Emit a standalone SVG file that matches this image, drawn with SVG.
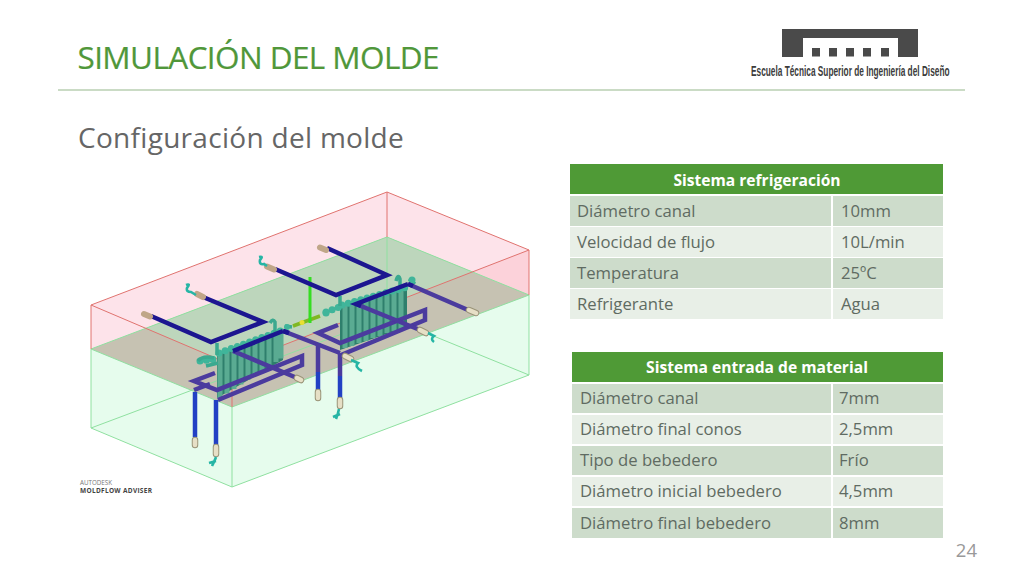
<svg xmlns="http://www.w3.org/2000/svg" width="1024" height="576" viewBox="0 0 1024 576">
<style>
text{font-family:"Open Sans","Liberation Sans",sans-serif}
.title{font-size:31.500px;fill:#50973a;letter-spacing:-.6px;stroke:#50973a;stroke-width:.2px}
.sub{font-size:28px;fill:#666;letter-spacing:.3px}
.th{font-size:15.600px;font-weight:700;fill:#fff;text-anchor:middle}
.td{font-size:16.700px;fill:#5f6b62}
.hd{fill:#4f9a36}.a{fill:#cddccb}.b{fill:#e8efe7}
.red{stroke:#e0736f;stroke-width:1;fill:none}
.grn{stroke:#8fe0a0;stroke-width:1;fill:none}
.dark{stroke:#1c1490;stroke-width:4.500;fill:none}
.pur{stroke:#4b3a9e;stroke-width:4.500;fill:none}
.blu{stroke:#2140c4;stroke-width:4.500;fill:none}
.tip{stroke:#c0a688;stroke-width:6;fill:none;stroke-linecap:round}
.tipo{stroke:#9a9478;stroke-width:6.500;fill:none;stroke-linecap:round}
.tip2{stroke:#e6dfc6;stroke-width:4.500;fill:none;stroke-linecap:round}
.clip{stroke:#25b5a5;stroke-width:2.600;fill:none}
.rib{stroke:#5aab92;stroke-width:5;fill:none}
.bump{stroke:#3fb59a;stroke-width:7;fill:none;stroke-linecap:round}
.tl{stroke:#3aa98f;stroke-width:3.500;fill:none}
</style>
<defs><filter id="soft" x="-5%" y="-5%" width="110%" height="110%"><feGaussianBlur stdDeviation="0.5"/></filter></defs>
<rect width="1024" height="576" fill="#fff"/>
<text class="title" x="77.500" y="68.500" id="title">SIMULACIÓN DEL MOLDE</text>
<line x1="58" y1="90" x2="965" y2="90" stroke="#b8cfb2" stroke-width="1.500"/>
<text class="sub" x="78" y="148">Configuración del molde</text>
<g id="logo" fill="#4a4a4a">
<path d="M782 29H918V57H898V38H803V57H782Z"/>
<rect x="812" y="48" width="8" height="8.500"/><rect x="829" y="48" width="8" height="8.500"/><rect x="846" y="48" width="8" height="8.500"/><rect x="863" y="48" width="8" height="8.500"/><rect x="881" y="48" width="8" height="8.500"/>
<text transform="translate(751 76) scale(.553 1)" x="0" y="0" font-size="15" font-weight="700" style='font-family:"Liberation Sans",sans-serif' fill="#3c3c3c">Escuela Técnica Superior de Ingeniería del Diseño</text>
</g>
<g id="mold" filter="url(#soft)">
<polygon points="91,305 387,192 529,250 529,295 232,407 91,349" fill="#fde3ea"/>
<polygon points="529,250 472.500,272 529,295" fill="#fcd2da"/>
<polygon points="91,349 232,407 529,295 529,375 232,487 91,428" fill="#e6fced"/>
<polygon points="91,349 387,237 529,295 232,407" fill="#c6c2b2"/>
<polygon points="145.800,328.300 387,237 472.500,272 232,365" fill="#bdd6bc"/>
<path class="grn" d="M91 349L387 237L529 295L232 407ZM91 349V428L232 487L529 375V295M232 407V487M91 428L387 317L529 375M387 237V317"/>
<path class="red" d="M91 349V305L387 192L529 250V295M387 192V237M91 305L232 365L529 250M232 365V407"/>
<g id="cluster-left">
<polygon points="217,354 283,331 283,360 217,398" fill="#2f7f6c"/>
<path class="rib" d="M220 352V398M227 349.500V393.500M234 347V389M241 344.600V384.400M248 342V380M255 339.700V375.300M262 337V371M269 334.800V366M276 332V362M281 330.600V358.400"/>
<path class="bump" stroke-dasharray="0 6.500" d="M200 361L216 359M219 353L283 330"/>
<path class="tl" d="M217 343V355M270 323Q273 318 275 322V332M285 326L292 327M198 361Q203 355 214 358M206 366L218 363"/>
<circle cx="287" cy="327" r="3" fill="#3fb59a"/>
</g>
<g id="cluster-right">
<polygon points="340,306 407,288 407,327 340,350" fill="#2f7f6c"/>
<path class="rib" d="M345 304V348M352 302V346M359 300V343M366 298V341M373 296V338M380 294V336M387 292V333M394 290V331M401 288.500V329"/>
<path class="bump" stroke-dasharray="0 6.500" d="M326 312L342 306M342 305L407 287"/>
<path class="tl" d="M340 296V306M396 281Q398 273 400 279V289M409 279L415 284"/>
<circle cx="412" cy="280" r="3.500" fill="#3fb59a"/>
<circle cx="326" cy="313" r="3.500" fill="#3fb59a"/>
</g>
<g id="sprue">
<path d="M293 326L320 316" stroke="#7fb822" stroke-width="3.500" fill="none"/>
<circle cx="302" cy="322.500" r="2.500" fill="#e8e030"/>
<path d="M310 277V323" stroke="#35dd20" stroke-width="3" fill="none"/>
</g>
<g id="pipes">
<path class="pur" d="M215 373L194 381L217 390L302 356V365L218 400M194 390L210 384"/>
<path class="pur" d="M338 325L318 333L340 343L425 310V320L341 355"/>
<path class="pur" d="M233 351L297 378M283 331L340 353M356 304L420 330M408 284L468 310"/>
<path class="pur" d="M318 343V372M340 353V376"/>
<path class="blu" d="M318 372V390M340 376V398M195 392V437M216 400V445"/>
<path class="dark" d="M151 316L211 342L263 322L203 297"/>
<path class="dark" d="M327 248L387 275L336 295L275 269"/>
<path class="dark" d="M283 331L233 351M283 331L289 333M408 284L356 304L361 306M408 284L413 286"/>
<path class="tip" d="M144 314L150 316.500M197 294L203 297M320 247.500L326 250M267 266.500L274 269.500"/>
<path class="tipo" d="M297 378L301 380M420 330L426 333M469 310L476 313M345 356L351 359M195 440V445M216 447V454M318 392V398M340 400V406"/>
<path class="tip2" d="M297 378L301 380M420 330L426 333M469 310L476 313M345 356L351 359M195 440V445M216 447V454M318 392V398M340 400V406"/>
</g>
<g id="clips">
<path class="clip" d="M186 285Q191 283 187 288Q186 292 191 292L196 295M259 257Q264 256 260 260Q259 265 264 264L267 266M428 333L434 336Q430 339 434 342M351 360L358 363Q354 367 362 371M212 466Q215 460 216 457M209 463L216 461M336 419Q338 414 339 409M333 417L340 414"/>
</g>
</g>
<g id="brand">
<text x="80" y="485" font-size="6.500" fill="#777" textLength="32" lengthAdjust="spacingAndGlyphs">AUTODESK</text>
<text x="80" y="492.500" font-size="6.500" font-weight="700" fill="#444" textLength="72" lengthAdjust="spacing">MOLDFLOW ADVISER</text>
</g>
<g id="table-refrigeracion">
<rect class="hd" x="570" y="164" width="373" height="30"/>
<rect class="a" x="570" y="196" width="261" height="30"/><rect class="a" x="833" y="196" width="110" height="30"/>
<rect class="b" x="570" y="227" width="261" height="30"/><rect class="b" x="833" y="227" width="110" height="30"/>
<rect class="a" x="570" y="258" width="261" height="30"/><rect class="a" x="833" y="258" width="110" height="30"/>
<rect class="b" x="570" y="289" width="261" height="30"/><rect class="b" x="833" y="289" width="110" height="30"/>
<text class="th" x="757" y="186">Sistema refrigeración</text>
<text class="td" x="577" y="217">Diámetro canal</text><text class="td" x="841" y="217">10mm</text>
<text class="td" x="577" y="248">Velocidad de flujo</text><text class="td" x="841" y="248">10L/min</text>
<text class="td" x="577" y="279">Temperatura</text><text class="td" x="841" y="279">25ºC</text>
<text class="td" x="577" y="310">Refrigerante</text><text class="td" x="841" y="310">Agua</text>
</g>
<g id="table-material">
<rect class="hd" x="572" y="352" width="371" height="30"/>
<rect class="a" x="572" y="384" width="259" height="29"/><rect class="a" x="833" y="384" width="110" height="29"/>
<rect class="b" x="572" y="415" width="259" height="29"/><rect class="b" x="833" y="415" width="110" height="29"/>
<rect class="a" x="572" y="446" width="259" height="29"/><rect class="a" x="833" y="446" width="110" height="29"/>
<rect class="b" x="572" y="477" width="259" height="29"/><rect class="b" x="833" y="477" width="110" height="29"/>
<rect class="a" x="572" y="508" width="259" height="30"/><rect class="a" x="833" y="508" width="110" height="30"/>
<text class="th" x="757" y="373">Sistema entrada de material</text>
<text class="td" x="580" y="404">Diámetro canal</text><text class="td" x="839" y="404">7mm</text>
<text class="td" x="580" y="435">Diámetro final conos</text><text class="td" x="839" y="435">2,5mm</text>
<text class="td" x="580" y="466">Tipo de bebedero</text><text class="td" x="839" y="466">Frío</text>
<text class="td" x="580" y="497">Diámetro inicial bebedero</text><text class="td" x="839" y="497">4,5mm</text>
<text class="td" x="580" y="529">Diámetro final bebedero</text><text class="td" x="839" y="529">8mm</text>
</g>
<text x="977" y="557" font-size="18.500" fill="#999" text-anchor="end">24</text>
</svg>
